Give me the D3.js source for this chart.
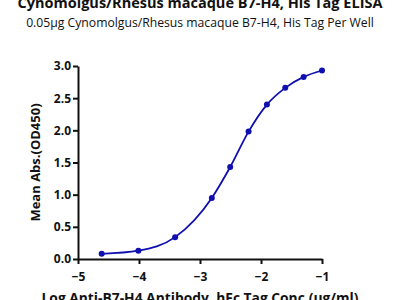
<!DOCTYPE html>
<html>
<head>
<meta charset="utf-8">
<script src="https://cdn.jsdelivr.net/npm/d3@7"></script>
<style>
  body { margin: 0; background: #fff; }
  svg { display: block; }
  text { font-family: "Open Sans", "Noto Sans", sans-serif; fill: #111; }
</style>
</head>
<body>
<svg id="chart" width="400" height="300"></svg>
<script>
// log10 concentration (ug/ml) and mean OD450
var logConc = [-4.612, -4.010, -3.408, -2.806, -2.505, -2.204, -1.903, -1.602, -1.301, -1.000];
var meanAbs = [0.08, 0.13, 0.34, 0.95, 1.43, 1.98, 2.40, 2.66, 2.83, 2.93];
var xTicks = [-5, -4, -3, -2, -1];
var yTicks = [0.0, 0.5, 1.0, 1.5, 2.0, 2.5, 3.0];

var svg = d3.select("#chart"),
    margin = {left: 78, right: 78, top: 66, bottom: 41},
    width = 400 - margin.left - margin.right,
    height = 300 - margin.top - margin.bottom;

var x = d3.scaleLinear().domain([-5, -1]).range([margin.left, margin.left + width]);
var y = d3.scaleLinear().domain([0, 3]).range([margin.top + height, margin.top]);

var blue = "#1010b0";

// titles
svg.append("text")
    .attr("x", 200).attr("y", 7.5)
    .attr("text-anchor", "middle")
    .style("font-size", "14.5px").style("font-weight", "bold")
    .text("Cynomolgus/Rhesus macaque B7-H4, His Tag ELISA");
svg.append("text")
    .attr("x", 200).attr("y", 27)
    .attr("text-anchor", "middle")
    .style("font-size", "12.2px")
    .text("0.05\u00b5g Cynomolgus/Rhesus macaque B7-H4, His Tag Per Well");

// axes
var xAxis = svg.append("g")
    .attr("transform", "translate(0," + (margin.top + height) + ")")
    .call(d3.axisBottom(x).tickValues(xTicks).tickFormat(d3.format("d")).tickSize(5).tickSizeOuter(0));
var yAxis = svg.append("g")
    .attr("transform", "translate(" + margin.left + ",0)")
    .call(d3.axisLeft(y).tickValues(yTicks).tickFormat(d3.format(".1f")).tickSize(5).tickSizeOuter(0));

[xAxis, yAxis].forEach(function (a) {
    a.select(".domain").attr("stroke", "#111").attr("stroke-width", 2);
    a.selectAll(".tick line").attr("stroke", "#111").attr("stroke-width", 2);
    a.selectAll(".tick text")
        .style("font-family", "'Open Sans', sans-serif")
        .style("font-size", "12px").style("font-weight", "bold").attr("fill", "#111");
});
xAxis.selectAll(".tick text").attr("dy", "1.15em");
yAxis.selectAll(".tick text").attr("x", -7);

// axis labels
svg.append("text")
    .attr("transform", "translate(40," + (margin.top + height / 2) + ") rotate(-90)")
    .attr("text-anchor", "middle")
    .style("font-size", "13px").style("font-weight", "bold")
    .text("Mean Abs.(OD450)");
svg.append("text")
    .attr("x", 200).attr("y", 303)
    .attr("text-anchor", "middle")
    .style("font-size", "13.8px").style("font-weight", "bold")
    .text("Log Anti-B7-H4 Antibody, hFc Tag Conc.(\u00b5g/ml)");

// curve through points
var pts = logConc.map(function (c, i) { return [c, meanAbs[i]]; });
var line = d3.line()
    .x(function (d) { return x(d[0]); })
    .y(function (d) { return y(d[1]); })
    .curve(d3.curveMonotoneX);

svg.append("path")
    .datum(pts)
    .attr("fill", "none")
    .attr("stroke", blue)
    .attr("stroke-width", 1.8)
    .attr("d", line);

svg.selectAll("circle.pt")
    .data(pts)
    .enter()
    .append("circle")
    .attr("class", "pt")
    .attr("cx", function (d) { return x(d[0]); })
    .attr("cy", function (d) { return y(d[1]); })
    .attr("r", 3)
    .attr("fill", blue);
</script>
</body>
</html>
